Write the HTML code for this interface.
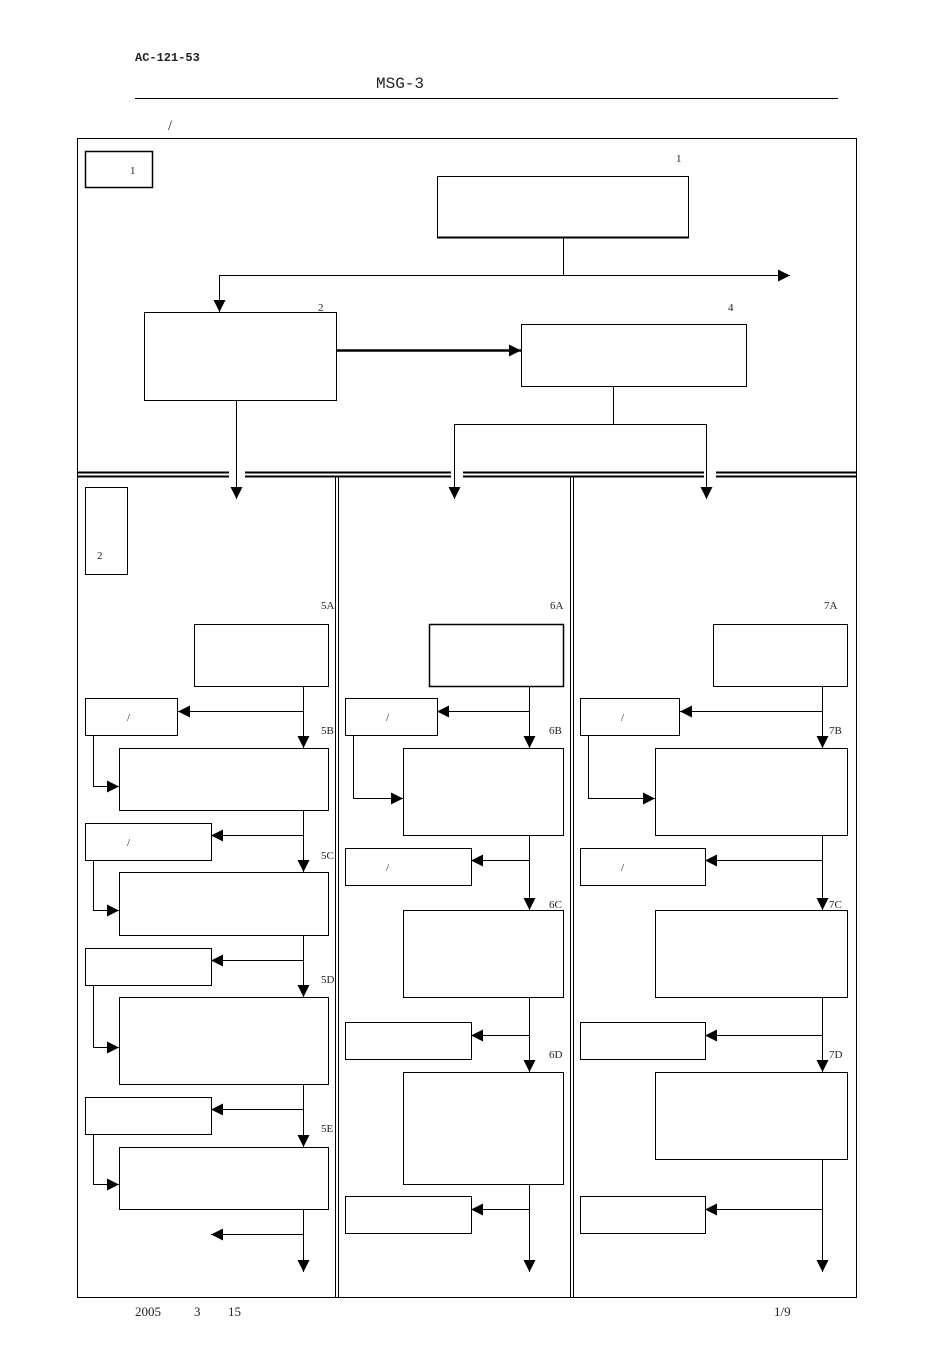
<!DOCTYPE html>
<html><head><meta charset="utf-8"><style>
html,body{margin:0;padding:0;background:#fff;}
svg{display:block;}
text{font-family:"Liberation Serif","Noto Serif CJK SC",serif;fill:#222;}
</style></head><body>
<svg width="950" height="1345" viewBox="0 0 950 1345" xmlns="http://www.w3.org/2000/svg">
<defs>
<marker id="a" markerWidth="12" markerHeight="12" refX="12" refY="6" orient="auto" markerUnits="userSpaceOnUse"><path d="M0,0 L12,6 L0,12 z" fill="#000"/></marker>
</defs>
<text x="135" y="61" font-size="12" font-weight="bold" font-family="Liberation Mono, monospace" style="font-family:'Liberation Mono',monospace">AC-121-53</text>
<text x="376" y="88" font-size="16" style="font-family:'Liberation Mono',monospace">MSG-3</text>
<line x1="135" y1="98.5" x2="838" y2="98.5" stroke="#000"/>
<text x="168" y="130" font-size="15">/</text>
<g fill="none" stroke="#000" stroke-width="1">
<rect x="77.5" y="138.5" width="779" height="1159"/>
<path d="M77 472.5H229M245 472.5H451M463 472.5H704M716 472.5H856" stroke-width="2"/>
<path d="M77 476.5H229M245 476.5H451M463 476.5H704M716 476.5H856" stroke-width="2"/>
<path d="M335.5 477V1297M338.5 477V1297M570.5 477V1297M573.5 477V1297"/>
<rect x="85.5" y="151.5" width="67" height="36" stroke-width="1.5"/>
<rect x="437.5" y="176.5" width="251" height="61"/>
<line x1="437" y1="237.5" x2="689" y2="237.5" stroke-width="2"/>
<path d="M563.5 238V275.5M219.5 275.5H790" marker-end="url(#a)"/>
<path d="M219.5 275V312" marker-end="url(#a)"/>
<rect x="144.5" y="312.5" width="192" height="88"/>
<path d="M337 350.5H521" stroke-width="2.5" marker-end="url(#a)"/>
<rect x="521.5" y="324.5" width="225" height="62"/>
<path d="M613.5 387V424.5M454.5 424.5H706.5V499" />
<path d="M454.5 424V499" marker-end="url(#a)"/>
<path d="M706.5 480V499" marker-end="url(#a)"/>
<path d="M236.5 400V499" marker-end="url(#a)"/>
<rect x="85.5" y="487.5" width="42" height="87"/>
<rect x="194.5" y="624.5" width="134" height="62"/>
<rect x="85.5" y="698.5" width="92" height="37"/>
<rect x="119.5" y="748.5" width="209" height="62"/>
<rect x="85.5" y="823.5" width="126" height="37"/>
<rect x="119.5" y="872.5" width="209" height="63"/>
<rect x="85.5" y="948.5" width="126" height="37"/>
<rect x="119.5" y="997.5" width="209" height="87"/>
<rect x="85.5" y="1097.5" width="126" height="37"/>
<rect x="119.5" y="1147.5" width="209" height="62"/>
<path d="M303.5 686V748" marker-end="url(#a)"/>
<path d="M303.5 711.5H178" marker-end="url(#a)"/>
<path d="M303.5 810V872" marker-end="url(#a)"/>
<path d="M303.5 835.5H211" marker-end="url(#a)"/>
<path d="M303.5 935V997" marker-end="url(#a)"/>
<path d="M303.5 960.5H211" marker-end="url(#a)"/>
<path d="M303.5 1084V1147" marker-end="url(#a)"/>
<path d="M303.5 1109.5H211" marker-end="url(#a)"/>
<path d="M303.5 1209V1272" marker-end="url(#a)"/>
<path d="M303.5 1234.5H211" marker-end="url(#a)"/>
<path d="M93.5 736V786.5H119" marker-end="url(#a)"/>
<path d="M93.5 860V910.5H119" marker-end="url(#a)"/>
<path d="M93.5 985V1047.5H119" marker-end="url(#a)"/>
<path d="M93.5 1134V1184.5H119" marker-end="url(#a)"/>
<rect x="429.5" y="624.5" width="134" height="62" stroke-width="1.5"/>
<rect x="345.5" y="698.5" width="92" height="37"/>
<rect x="403.5" y="748.5" width="160" height="87"/>
<rect x="345.5" y="848.5" width="126" height="37"/>
<rect x="403.5" y="910.5" width="160" height="87"/>
<rect x="345.5" y="1022.5" width="126" height="37"/>
<rect x="403.5" y="1072.5" width="160" height="112"/>
<rect x="345.5" y="1196.5" width="126" height="37"/>
<path d="M529.5 686V748" marker-end="url(#a)"/>
<path d="M529.5 711.5H437" marker-end="url(#a)"/>
<path d="M529.5 836V910" marker-end="url(#a)"/>
<path d="M529.5 860.5H471" marker-end="url(#a)"/>
<path d="M529.5 997V1072" marker-end="url(#a)"/>
<path d="M529.5 1035.5H471" marker-end="url(#a)"/>
<path d="M529.5 1184V1272" marker-end="url(#a)"/>
<path d="M529.5 1209.5H471" marker-end="url(#a)"/>
<path d="M353.5 736V798.5H403" marker-end="url(#a)"/>
<rect x="713.5" y="624.5" width="134" height="62"/>
<rect x="580.5" y="698.5" width="99" height="37"/>
<rect x="655.5" y="748.5" width="192" height="87"/>
<rect x="580.5" y="848.5" width="125" height="37"/>
<rect x="655.5" y="910.5" width="192" height="87"/>
<rect x="580.5" y="1022.5" width="125" height="37"/>
<rect x="655.5" y="1072.5" width="192" height="87"/>
<rect x="580.5" y="1196.5" width="125" height="37"/>
<path d="M822.5 686V748" marker-end="url(#a)"/>
<path d="M822.5 711.5H680" marker-end="url(#a)"/>
<path d="M822.5 836V910" marker-end="url(#a)"/>
<path d="M822.5 860.5H705" marker-end="url(#a)"/>
<path d="M822.5 997V1072" marker-end="url(#a)"/>
<path d="M822.5 1035.5H705" marker-end="url(#a)"/>
<path d="M822.5 1159V1272" marker-end="url(#a)"/>
<path d="M822.5 1209.5H705" marker-end="url(#a)"/>
<path d="M588.5 736V798.5H655" marker-end="url(#a)"/>
</g>
<g font-size="11">
<text x="130" y="174">1</text>
<text x="676" y="162">1</text>
<text x="318" y="311">2</text>
<text x="728" y="311">4</text>
<text x="97" y="559">2</text>
<text x="321" y="609">5A</text><text x="321" y="734">5B</text><text x="321" y="859">5C</text><text x="321" y="983">5D</text><text x="321" y="1132">5E</text>
<text x="550" y="609">6A</text><text x="549" y="734">6B</text><text x="549" y="908">6C</text><text x="549" y="1058">6D</text>
<text x="824" y="609">7A</text><text x="829" y="734">7B</text><text x="829" y="908">7C</text><text x="829" y="1058">7D</text>
<text x="127" y="721">/</text><text x="127" y="846">/</text>
<text x="386" y="721">/</text><text x="386" y="871">/</text>
<text x="621" y="721">/</text><text x="621" y="871">/</text>
</g>
<text x="135" y="1316" font-size="13">2005</text>
<text x="194" y="1316" font-size="13">3</text>
<text x="228" y="1316" font-size="13">15</text>
<text x="774" y="1316" font-size="13">1/9</text>
</svg>
</body></html>
